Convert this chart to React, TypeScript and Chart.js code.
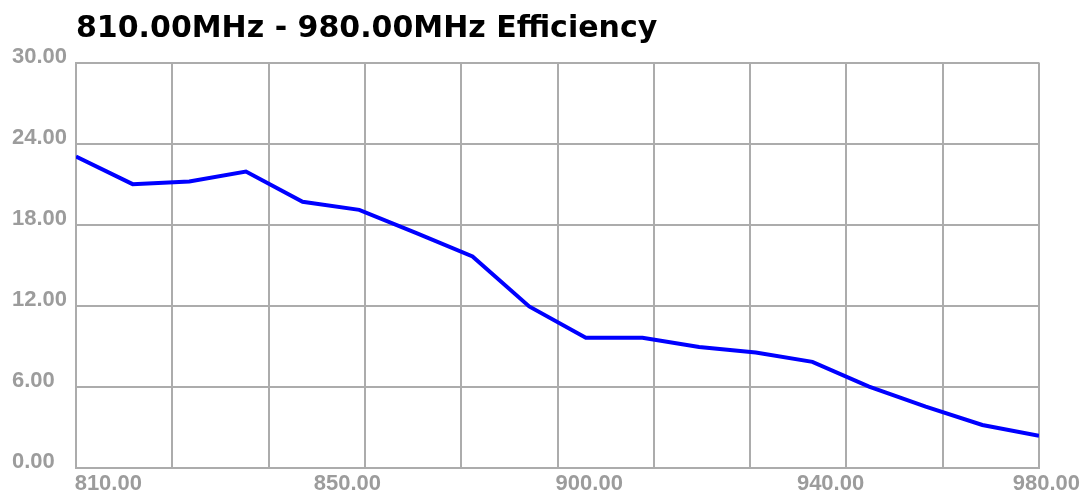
import { useEffect, useRef } from 'react';
import { Chart, registerables } from 'chart.js';

Chart.register(...registerables);

const chartTitle = '810.00MHz - 980.00MHz Efficiency';
const frequencies = [810, 820, 830, 840, 850, 860, 870, 880, 890, 900, 910, 920, 930, 940, 950, 960, 970, 980];
const efficiency = [23.04, 21.0, 21.2, 21.93, 19.7, 19.1, 17.4, 15.65, 11.95, 9.64, 9.64, 8.95, 8.55, 7.85, 6.02, 4.54, 3.18, 2.39];
const xGridValues = [810, 827, 844, 861, 878, 895, 912, 929, 946, 963, 980];
const xTickLabels = ['810.00', '850.00', '900.00', '940.00', '980.00'];
const xTickValues = [815.7, 857.9, 900.6, 943.2, 981.3];
const yMin = 0;
const yMax = 30;
const yStep = 6;

const GRID = '#acacac';
const TICK_COLOR = '#9c9c9c';
const TICK_FONT = { family: "'Liberation Sans', Arial, sans-serif", size: 22, weight: 'bold' as const };

export default function App() {
  const ref = useRef<HTMLCanvasElement>(null);

  useEffect(() => {
    const chart = new Chart(ref.current!, {
      type: 'line',
      data: {
        datasets: [
          {
            data: frequencies.map((f, i) => ({ x: f, y: efficiency[i] })),
            borderColor: '#0000ff',
            borderWidth: 4,
            pointRadius: 0,
            tension: 0,
            fill: false,
          },
        ],
      },
      options: {
        responsive: false,
        animation: false,
        layout: { padding: { left: 12, right: 50, top: 0, bottom: 0 } },
        plugins: {
          legend: { display: false },
          tooltip: { enabled: false },
          title: {
            display: true,
            text: chartTitle,
            align: 'start',
            fullSize: false,
            color: '#000000',
            font: { family: "'DejaVu Sans', sans-serif", size: 30, weight: 'bold' },
            padding: { top: 11, bottom: 15.5 },
          },
        },
        scales: {
          x: {
            type: 'linear',
            position: 'bottom',
            min: frequencies[0],
            max: frequencies[frequencies.length - 1],
            afterBuildTicks: (axis: any) => {
              axis.ticks = xGridValues.map((v) => ({ value: v }));
            },
            ticks: { display: false },
            grid: { color: GRID, lineWidth: 2, drawTicks: false },
            border: { color: GRID, width: 2 },
          },
          xLabels: {
            type: 'linear',
            position: 'bottom',
            min: frequencies[0],
            max: frequencies[frequencies.length - 1],
            afterBuildTicks: (axis: any) => {
              axis.ticks = xTickValues.map((v) => ({ value: v }));
            },
            afterFit: (axis: any) => {
              axis.height = 26;
            },
            ticks: {
              autoSkip: false,
              maxRotation: 0,
              padding: 3,
              color: TICK_COLOR,
              font: TICK_FONT,
              callback: (_v: any, i: number) => xTickLabels[i],
            },
            grid: { display: false, drawTicks: false },
            border: { display: false },
          },
          y: {
            type: 'linear',
            min: yMin,
            max: yMax,
            afterFit: (axis: any) => {
              axis.width = 64;
            },
            ticks: {
              stepSize: yStep,
              crossAlign: 'far',
              labelOffset: -6,
              padding: 0,
              color: TICK_COLOR,
              font: TICK_FONT,
              callback: (v: any) => Number(v).toFixed(2),
            },
            grid: { color: GRID, lineWidth: 2, drawTicks: false },
            border: { color: GRID, width: 2 },
          },
        },
      },
    });
    return () => chart.destroy();
  }, []);

  return (
    <div style={{ position: 'absolute', left: 0, top: 0, width: 1089, height: 494, background: '#ffffff' }}>
      <canvas ref={ref} width={1089} height={494} style={{ display: 'block' }} />
    </div>
  );
}
